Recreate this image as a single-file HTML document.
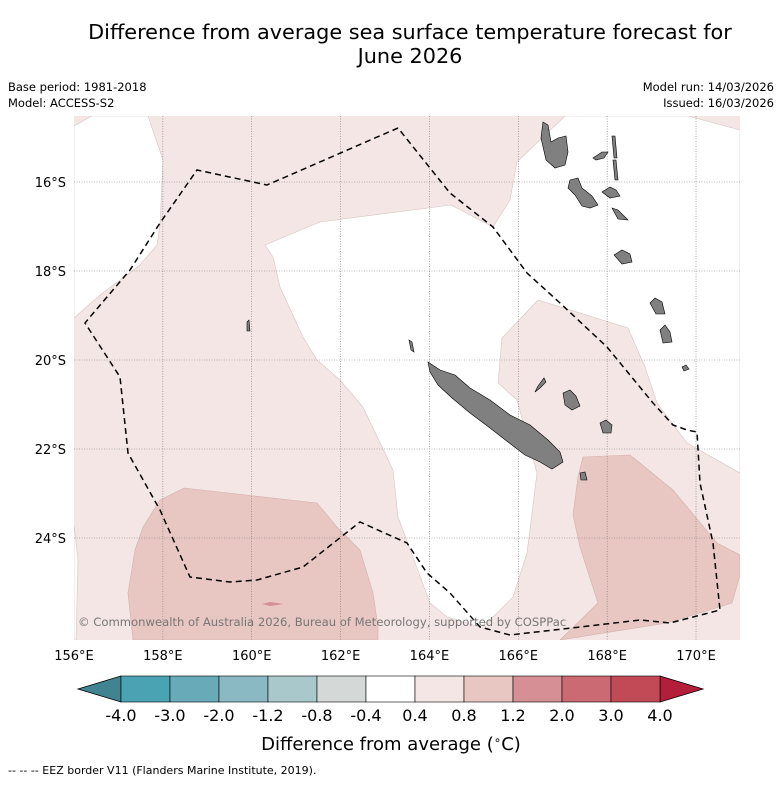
<!DOCTYPE html>
<html><head><meta charset="utf-8"><style>
body{margin:0;background:#fff;width:781px;height:781px;overflow:hidden;font-family:"DejaVu Sans","Liberation Sans",sans-serif}
svg text{font-family:"DejaVu Sans","Liberation Sans",sans-serif}
</style></head><body>
<svg id="s" width="781" height="781" xmlns="http://www.w3.org/2000/svg">
<text x="410" y="39" font-size="20.8" text-anchor="middle">Difference from average sea surface temperature forecast for</text>
<text x="410" y="63" font-size="20.8" text-anchor="middle">June 2026</text>
<text x="8" y="91" font-size="11.5">Base period: 1981-2018</text>
<text x="8" y="107" font-size="11.5">Model: ACCESS-S2</text>
<text x="774" y="91" font-size="11.5" text-anchor="end">Model run: 14/03/2026</text>
<text x="774" y="107" font-size="11.5" text-anchor="end">Issued: 16/03/2026</text>
<g id="map"></g>
<g id="cb"></g>
<text x="391" y="750" font-size="18" text-anchor="middle">Difference from average (<tspan font-size="12" dy="-6">∘</tspan><tspan dy="6">C)</tspan></text>
<text x="8" y="774" font-size="11">--  --  -- EEZ border V11 (Flanders Marine Institute, 2019).</text>
</svg>
<script>
const lonTicks=[156,158,160,162,164,166,168,170];
const latTicks=[16,18,20,22,24];
const levels=[-4.0,-3.0,-2.0,-1.2,-0.8,-0.4,0.4,0.8,1.2,2.0,3.0,4.0];
const levelColors=["#4aa3b2","#68aab8","#8ab8c3","#a9c8cb","#d4d9d8","#ffffff","#f3e6e4","#e8c7c2","#d68f95","#cc6a73","#c24956"];
const extendColors=["#3f8490","#b31f3a"];
const P=(a)=>a.map(p=>[156+(p[0]-74)/44.43,16+(p[1]-182)/44.5]);
const whiteMain=P([[565,116],[688,116],[740,130],[740,473],[687,443],[657,403],[645,367],[628,328],[538,300],[502,338],[498,383],[517,400],[537,473],[527,553],[513,597],[493,617],[480,627],[447,617],[430,603],[398,517],[393,470],[363,407],[340,380],[317,360],[303,337],[280,287],[273,257],[265,245],[320,222],[451,205],[493,227],[510,200],[517,162]]);
const whiteTopLeft=P([[92,116],[148,116],[163,160],[160,225],[157,245],[140,265],[100,295],[74,318],[74,126]]);
const whiteBottomLeft=P([[74,525],[78,560],[76,640],[74,640]]);
const darkLeft=P([[184,488],[317,503],[337,527],[360,550],[373,593],[378,627],[378,640],[133,640],[128,593],[135,550],[143,527],[160,500]]);
const darkRight=P([[583,457],[630,455],[673,490],[717,543],[740,555],[740,575],[732,603],[667,623],[560,640],[598,603],[580,547],[573,515],[578,477]]);
const redBlob=P([[262,604],[270,602],[284,604],[270,606]]);
const eez=P([[398,128],[267,185],[197,170],[160,223],[130,270],[90,317],[85,323],[120,377],[128,453],[160,510],[190,577],[230,582],[257,580],[303,567],[360,522],[407,543],[427,573],[450,593],[480,627],[510,635],[580,627],[640,620],[670,623],[720,610],[713,543],[700,483],[697,432],[687,430],[673,425],[653,403],[607,347],[560,303],[527,273],[493,227],[450,193],[398,128]]);
const islands=[
P([[428,362],[440,370],[455,375],[470,388],[490,400],[510,415],[530,425],[548,440],[560,452],[563,462],[552,469],[540,462],[525,455],[508,442],[490,428],[470,413],[452,398],[438,385],[430,372]]),
P([[543,122],[548,125],[551,142],[558,138],[566,136],[568,152],[565,165],[555,168],[546,160],[541,138]]),
P([[570,180],[578,178],[582,188],[592,196],[598,205],[590,208],[582,206],[575,195],[568,188]]),
P([[593,158],[602,152],[608,152],[604,158],[596,160]]),
P([[612,136],[615,136],[617,158],[614,158]]),
P([[613,160],[616,160],[618,180],[615,180]]),
P([[602,192],[610,187],[616,190],[620,196],[610,198]]),
P([[612,208],[618,210],[624,216],[628,220],[618,219]]),
P([[614,255],[622,250],[630,254],[632,262],[622,264]]),
P([[650,303],[655,298],[662,302],[665,314],[656,314]]),
P([[660,330],[665,325],[670,332],[672,342],[663,343]]),
P([[682,367],[686,365],[689,369],[684,371]]),
P([[563,393],[570,390],[576,396],[580,406],[572,410],[565,405]]),
P([[600,423],[606,420],[612,425],[611,433],[603,433]]),
P([[538,386],[544,378],[546,382],[540,388],[535,392]]),
P([[580,473],[585,472],[587,480],[581,480]]),
P([[247,322],[249,320],[250,331],[247,331]]),
P([[409,340],[412,342],[414,352],[411,350]])];
const X0=74,X1=740,Y0=116,Y1=640;
const xs=lon=>74+(lon-156)*44.43;
const ys=lat=>182+(lat-16)*44.5;
const NS="http://www.w3.org/2000/svg";
function mk(tag,attrs,parent){const e=document.createElementNS(NS,tag);for(const k in attrs)e.setAttribute(k,attrs[k]);parent.appendChild(e);return e;}
const map=document.getElementById('map');
const cp=mk('clipPath',{id:'clip'},map);mk('rect',{x:X0,y:Y0,width:X1-X0,height:Y1-Y0},cp);
const g=mk('g',{'clip-path':'url(#clip)'},map);
const bg=mk('rect',{x:X0,y:Y0,width:X1-X0,height:Y1-Y0,fill:levelColors[6]},g);


const pts=a=>a.map(p=>xs(p[0]).toFixed(1)+','+ys(p[1]).toFixed(1)).join(' ');
function poly(a,fill,stroke,name){const e=mk('polygon',{points:pts(a),fill:fill,stroke:stroke,'stroke-width':0.6},g);

return e;}
poly(whiteMain,'#ffffff','#d8c4c2','neutral-region');
poly(whiteTopLeft,'#ffffff','#d8c4c2','neutral-region-northwest');
poly(whiteBottomLeft,'#ffffff','#d8c4c2','neutral-region-southwest');
poly(darkLeft,levelColors[7],'#d4b0ab','anomaly-0.8-1.2-region-west');
poly(darkRight,levelColors[7],'#d4b0ab','anomaly-0.8-1.2-region-east');
poly(redBlob,levelColors[8],'none','anomaly-1.2-2.0-spot');
lonTicks.slice(1).forEach(l=>{const e=mk('line',{x1:xs(l),x2:xs(l),y1:Y0,y2:Y1,stroke:'#777','stroke-width':0.6,'stroke-dasharray':'1,1.5'},g);

});
latTicks.forEach(l=>{const e=mk('line',{x1:X0,x2:X1,y1:ys(l),y2:ys(l),stroke:'#777','stroke-width':0.6,'stroke-dasharray':'1,1.5'},g);

});
islands.forEach(a=>{poly(a,'#808080','#000','land');});
const ez=mk('polyline',{points:pts(eez),fill:'none',stroke:'#000','stroke-width':1.5,'stroke-dasharray':'6,4'},g);


const cr=mk('text',{x:78,y:626,'font-size':11.6,fill:'#777'},map);cr.textContent='© Commonwealth of Australia 2026, Bureau of Meteorology, supported by COSPPac';


lonTicks.forEach(l=>{const t=mk('text',{x:xs(l),y:660,'font-size':13,'text-anchor':'middle'},map);t.textContent=l+'°E';

});
latTicks.forEach(l=>{const t=mk('text',{x:66,y:ys(l)+5,'font-size':13,'text-anchor':'end'},map);t.textContent=l+'°S';

});
const cb=document.getElementById('cb');
const cbx0=121,cbx1=660,cby=676,cbh=26,n=levelColors.length,w=(cbx1-cbx0)/n;
const lt=mk('polygon',{points:`${cbx0},${cby} ${78},${cby+cbh/2} ${cbx0},${cby+cbh}`,fill:extendColors[0],stroke:'#000','stroke-width':0.8},cb);


const rt=mk('polygon',{points:`${cbx1},${cby} ${703},${cby+cbh/2} ${cbx1},${cby+cbh}`,fill:extendColors[1],stroke:'#000','stroke-width':0.8},cb);


levelColors.forEach((c,i)=>{const r=mk('rect',{x:cbx0+i*w,y:cby,width:w,height:cbh,fill:c,stroke:'#000','stroke-width':0.6},cb);

});
levels.forEach((v,i)=>{const t=mk('text',{x:cbx0+i*w,y:721,'font-size':16,'text-anchor':'middle'},cb);t.textContent=v.toFixed(1);

});
</script>
</body></html>
